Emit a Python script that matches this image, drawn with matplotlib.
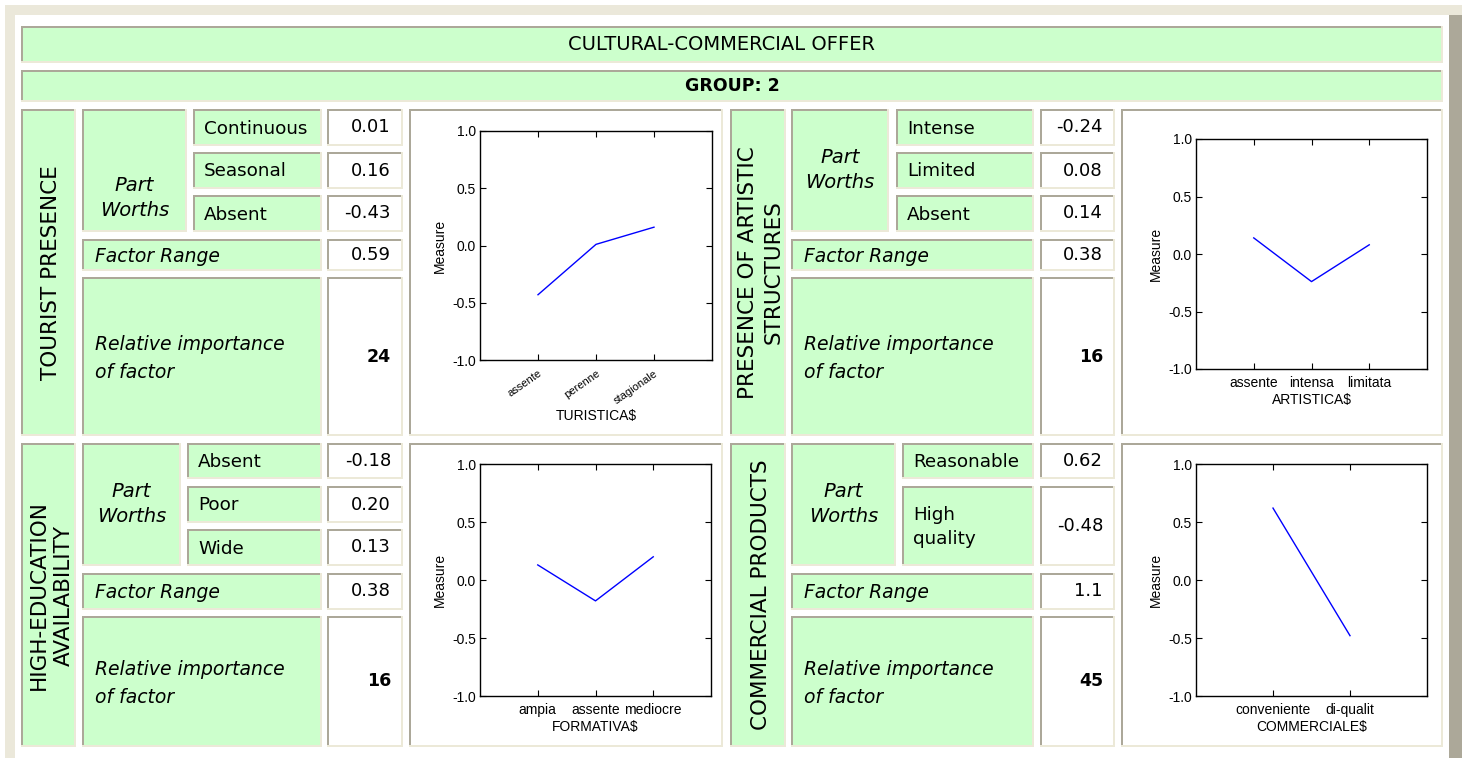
import matplotlib
matplotlib.use("Agg")
import matplotlib.pyplot as plt
from matplotlib.patches import Rectangle

# ---------------- data ----------------
title = "CULTURAL-COMMERCIAL OFFER"
group_label = "GROUP: 2"

factor_names = ["TOURIST PRESENCE", "PRESENCE OF ARTISTIC\nSTRUCTURES",
                "HIGH-EDUCATION\nAVAILABILITY", "COMMERCIAL PRODUCTS"]

tourist_levels = ["Continuous", "Seasonal", "Absent"]
tourist_worths = ["0.01", "0.16", "-0.43"]
artistic_levels = ["Intense", "Limited", "Absent"]
artistic_worths = ["-0.24", "0.08", "0.14"]
education_levels = ["Absent", "Poor", "Wide"]
education_worths = ["-0.18", "0.20", "0.13"]
commercial_levels = ["Reasonable", "High\nquality"]
commercial_worths = ["0.62", "-0.48"]

factor_ranges = ["0.59", "0.38", "0.38", "1.1"]
importances = ["24", "16", "16", "45"]

tourist_cats = ["assente", "perenne", "stagionale"]
tourist_vals = [-0.43, 0.01, 0.16]
artistic_cats = ["assente", "intensa", "limitata"]
artistic_vals = [0.14, -0.24, 0.08]
education_cats = ["ampia", "assente", "mediocre"]
education_vals = [0.13, -0.18, 0.20]
commercial_cats = ["conveniente", "di-qualit"]
commercial_vals = [0.62, -0.48]

chart_xlabels = ["TURISTICA$", "ARTISTICA$", "FORMATIVA$", "COMMERCIALE$"]
y_ticks = [-1.0, -0.5, 0.0, 0.5, 1.0]

# ---------------- style ----------------
W, H = 1462, 758
GREEN = "#CCFFCC"
DARK = "#ACA899"
LIGHT = "#ECE9D8"
BEIGE = "#EBE8DA"
TXT_FONT = ["DejaVu Sans"]
CHART_FONT = ["Liberation Sans", "DejaVu Sans"]
CFS = 10  # chart font size

fig = plt.figure(figsize=(W / 100, H / 100), dpi=100)
fig.patch.set_facecolor("white")
ax0 = fig.add_axes([0, 0, 1, 1])
ax0.set_xlim(0, W)
ax0.set_ylim(H, 0)
ax0.axis("off")


def rect(x0, y0, x1, y1, color):
    ax0.add_patch(Rectangle((x0, y0), x1 - x0, y1 - y0, facecolor=color,
                            edgecolor="none", lw=0))


def cell(x0, y0, x1, y1, fill=GREEN):
    rect(x0, y0, x1, y1, fill)
    rect(x0, y0, x1, y0 + 2, DARK)
    rect(x0, y0, x0 + 2, y1, DARK)
    rect(x0, y1 - 2, x1, y1, LIGHT)
    rect(x1 - 2, y0, x1, y1, LIGHT)


def txt(x, y, s, size=13, ha="left", style="normal", weight="normal",
        rotation=0, ls=1.2, family=TXT_FONT):
    ax0.text(x, y, s, ha=ha, va="center", fontsize=size, fontstyle=style,
             fontweight=weight, rotation=rotation, linespacing=ls,
             family=family, color="black")


# outer frame
rect(5, 5, W, 15, BEIGE)
rect(5, 5, 15, H, BEIGE)
rect(1449, 15, W, H, DARK)

# title bars
cell(21, 26, 1443, 63)
txt(722, 45, title, size=14, ha="center")
cell(21, 70, 1443, 102)
txt(732, 86, group_label, size=12.5, ha="center", weight="bold")

# ---------------- panels ----------------
left_cols = dict(fac=(21, 76), val=(327, 403), chart=(409, 723))
right_cols = dict(fac=(730, 786), val=(1040, 1115), chart=(1121, 1443))

panels = [
    dict(cols=left_cols, pw=(82, 187), lev=(193, 322), top=109, bot=436,
         rows=[(109, 146), (152, 189), (195, 232)], fr=(239, 271), ri=(277, 436),
         pwy=198, levels=tourist_levels, worths=tourist_worths,
         cats=tourist_cats, vals=tourist_vals, plot=(480, 131, 712, 360), rot=True),
    dict(cols=right_cols, pw=(791, 889), lev=(896, 1034), top=109, bot=436,
         rows=[(109, 146), (152, 189), (195, 232)], fr=(239, 271), ri=(277, 436),
         pwy=170, levels=artistic_levels, worths=artistic_worths,
         cats=artistic_cats, vals=artistic_vals, plot=(1196, 139, 1427, 369), rot=False),
    dict(cols=left_cols, pw=(82, 181), lev=(187, 322), top=443, bot=747,
         rows=[(443, 479), (486, 523), (529, 566)], fr=(573, 610), ri=(616, 747),
         pwy=504, levels=education_levels, worths=education_worths,
         cats=education_cats, vals=education_vals, plot=(480, 464, 711, 696), rot=False),
    dict(cols=right_cols, pw=(791, 896), lev=(902, 1034), top=443, bot=747,
         rows=[(443, 479), (486, 566)], fr=(573, 610), ri=(616, 747),
         pwy=504, levels=commercial_levels, worths=commercial_worths,
         cats=commercial_cats, vals=commercial_vals, plot=(1196, 464, 1427, 696), rot=False),
]

for i, p in enumerate(panels):
    c = p["cols"]
    top, bot = p["top"], p["bot"]
    # factor name
    fx0, fx1 = c["fac"]
    cell(fx0, top, fx1, bot)
    txt((fx0 + fx1) / 2 + 3, (top + bot) / 2, factor_names[i], size=15.5,
        ha="center", rotation=90, ls=1.35)
    # part worths
    px0, px1 = p["pw"]
    cell(px0, top, px1, p["rows"][-1][1])
    txt((px0 + px1) / 2, p["pwy"], "Part\nWorths", size=14, ha="center",
        style="italic", ls=1.45)
    # levels and values
    lx0, lx1 = p["lev"]
    vx0, vx1 = c["val"]
    for (ry0, ry1), lab, val in zip(p["rows"], p["levels"], p["worths"]):
        cell(lx0, ry0, lx1, ry1)
        txt(lx0 + 11, (ry0 + ry1) / 2 + 1, lab, size=13.2, ls=1.4)
        cell(vx0, ry0, vx1, ry1, fill="white")
        txt(vx1 - 12, (ry0 + ry1) / 2, val, size=13, ha="right")
    # factor range
    fr0, fr1 = p["fr"]
    cell(px0, fr0, lx1, fr1)
    txt(px0 + 13, (fr0 + fr1) / 2 + 1, "Factor Range", size=13.5, style="italic")
    cell(vx0, fr0, vx1, fr1, fill="white")
    txt(vx1 - 12, (fr0 + fr1) / 2, factor_ranges[i], size=13, ha="right")
    # relative importance
    r0, r1 = p["ri"]
    cell(px0, r0, lx1, r1)
    txt(px0 + 13, (r0 + r1) / 2 + 2, "Relative importance\nof factor", size=13.5,
        style="italic", ls=1.55)
    cell(vx0, r0, vx1, r1, fill="white")
    txt(vx1 - 12, (r0 + r1) / 2, importances[i], size=12.5, ha="right", weight="bold")
    # chart cell
    cx0, cx1 = c["chart"]
    cell(cx0, top, cx1, bot, fill="white")

    # chart
    x0, y0, x1, y1 = p["plot"]
    ax = fig.add_axes([x0 / W, 1 - y1 / H, (x1 - x0) / W, (y1 - y0) / H])
    n = len(p["cats"])
    xs = list(range(1, n + 1))
    ax.plot(xs, p["vals"], color="#0000FF", lw=1)
    ax.set_xlim(0, n + 1)
    ax.set_ylim(-1, 1)
    ax.set_xticks(xs)
    ax.set_yticks(y_ticks)
    ax.set_yticklabels([f"{v:.1f}" for v in y_ticks], family=CHART_FONT, fontsize=CFS)
    if p["rot"]:
        ax.set_xticklabels(p["cats"], rotation=35, ha="right",
                           rotation_mode="anchor", family=CHART_FONT, fontsize=8)
    else:
        ax.set_xticklabels(p["cats"], family=CHART_FONT, fontsize=CFS)
    ax.tick_params(direction="in", top=True, right=True, length=4, width=0.8,
                   colors="black")
    ax.tick_params(axis="y", pad=3)
    ax.tick_params(axis="x", pad=5 if not p["rot"] else 6)
    for s in ax.spines.values():
        s.set_linewidth(1)
        s.set_color("black")
    ax.set_ylabel("Measure", family=CHART_FONT, fontsize=CFS, labelpad=4)
    ax.set_xlabel(chart_xlabels[i], family=CHART_FONT, fontsize=CFS, labelpad=2)
    ax.set_facecolor("white")

fig.savefig("out.png", dpi=100, facecolor="white")
